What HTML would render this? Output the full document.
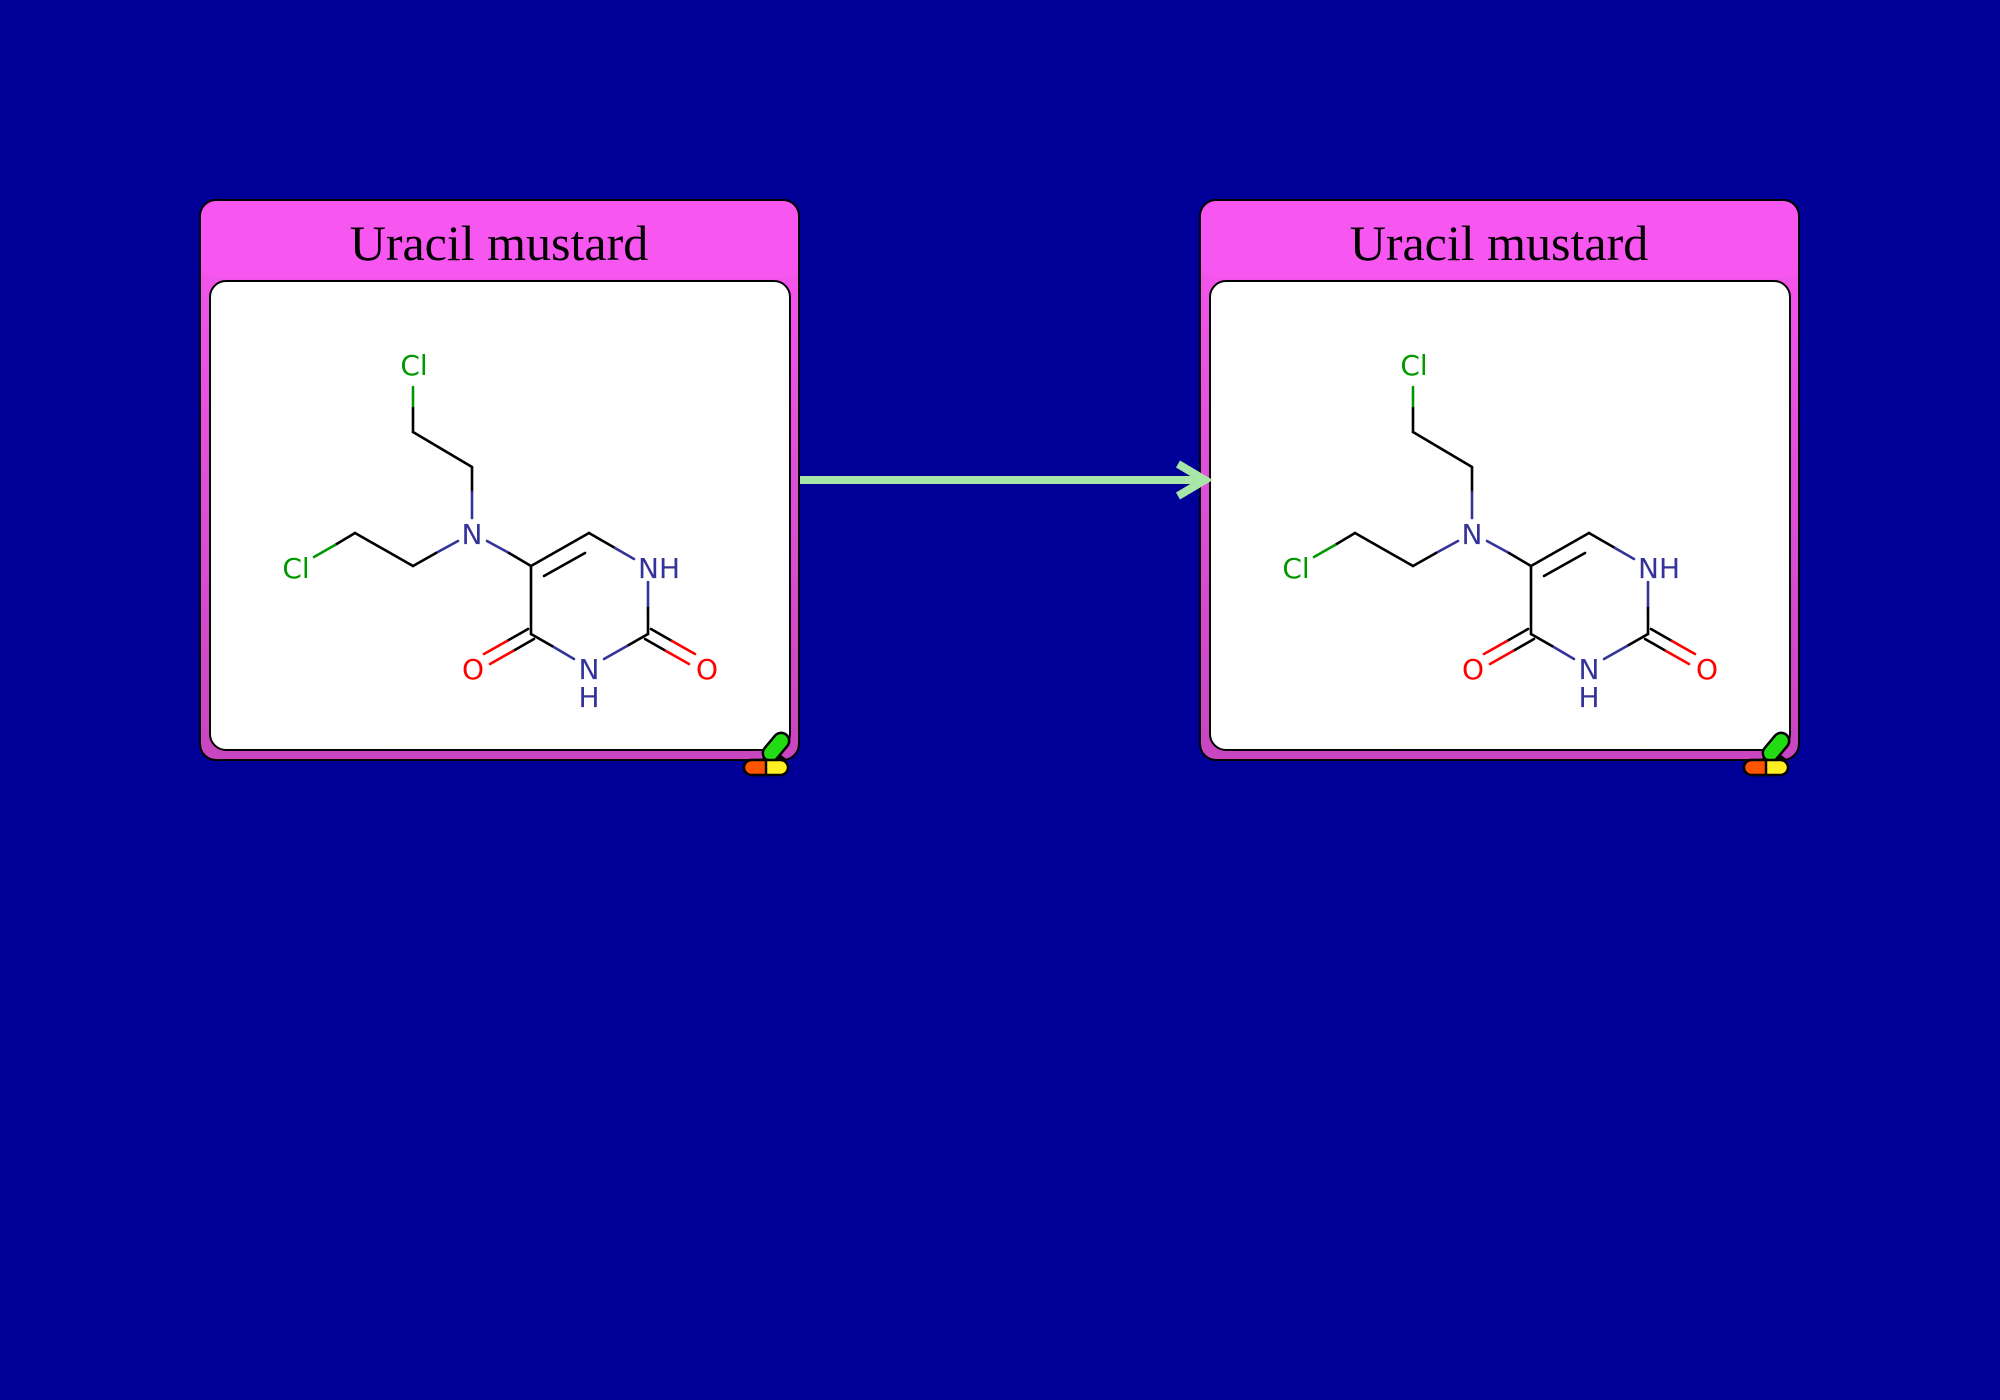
<!DOCTYPE html>
<html><head><meta charset="utf-8"><style>
html,body{margin:0;padding:0;background:#000099;}
svg{display:block}
</style></head><body>
<svg width="2000" height="1400" viewBox="0 0 2000 1400" xmlns="http://www.w3.org/2000/svg">
<defs>
<linearGradient id="g" x1="0" y1="0" x2="0" y2="1">
<stop offset="0" stop-color="#f757f0"/><stop offset="1" stop-color="#c846c0"/>
</linearGradient>
<g id="card">
<rect x="200" y="200" width="599" height="560" rx="16" fill="url(#g)" stroke="#000" stroke-width="2"/>
<rect x="200" y="200" width="599" height="78" rx="16" fill="#f757f0"/>
<rect x="200" y="200" width="599" height="560" rx="16" fill="none" stroke="#000" stroke-width="2"/>
<text x="499" y="260" font-family="Liberation Serif, serif" font-size="50" text-anchor="middle" fill="#000">Uracil mustard</text>
<rect x="210" y="281" width="580" height="469" rx="16" fill="#fff" stroke="#000" stroke-width="2"/>
<g stroke-width="2.6" fill="none" stroke-linecap="round">
<line x1="413" y1="387" x2="413" y2="408" stroke="#009900"/>
<line x1="413" y1="408" x2="413" y2="432" stroke="#000"/>
<line x1="413" y1="432" x2="472" y2="467" stroke="#000"/>
<line x1="472" y1="467" x2="472" y2="492" stroke="#000"/>
<line x1="472" y1="492" x2="472" y2="518" stroke="#33339a"/>
<line x1="458" y1="541" x2="436" y2="553" stroke="#33339a"/>
<line x1="436" y1="553" x2="413" y2="566" stroke="#000"/>
<line x1="413" y1="566" x2="355" y2="533" stroke="#000"/>
<line x1="355" y1="533" x2="335" y2="545" stroke="#000"/>
<line x1="335" y1="545" x2="314" y2="557" stroke="#009900"/>
<line x1="487" y1="541" x2="509" y2="553" stroke="#33339a"/>
<line x1="509" y1="553" x2="531" y2="566" stroke="#000"/>
<line x1="531" y1="566" x2="589" y2="533" stroke="#000"/>
<line x1="544" y1="576" x2="585" y2="553" stroke="#000"/>
<line x1="589" y1="533" x2="615" y2="548" stroke="#000"/>
<line x1="615" y1="548" x2="634" y2="559" stroke="#33339a"/>
<line x1="648" y1="582" x2="648" y2="608" stroke="#33339a"/>
<line x1="648" y1="608" x2="648" y2="634" stroke="#000"/>
<line x1="648" y1="634" x2="627" y2="646" stroke="#000"/>
<line x1="627" y1="646" x2="604" y2="659" stroke="#33339a"/>
<line x1="574" y1="659" x2="552" y2="646" stroke="#33339a"/>
<line x1="552" y1="646" x2="531" y2="634" stroke="#000"/>
<line x1="531" y1="634" x2="531" y2="566" stroke="#000"/>
<line x1="528" y1="629" x2="507" y2="641" stroke="#000"/>
<line x1="507" y1="641" x2="484" y2="654" stroke="#ff0000"/>
<line x1="534" y1="639" x2="513" y2="651" stroke="#000"/>
<line x1="513" y1="651" x2="490" y2="664" stroke="#ff0000"/>
<line x1="651" y1="629" x2="672" y2="641" stroke="#000"/>
<line x1="672" y1="641" x2="695" y2="654" stroke="#ff0000"/>
<line x1="645" y1="639" x2="666" y2="651" stroke="#000"/>
<line x1="666" y1="651" x2="689" y2="664" stroke="#ff0000"/>
</g>
<g font-family="DejaVu Sans, sans-serif" font-size="28" text-anchor="middle">
<text x="414" y="375" fill="#009900">Cl</text>
<text x="296" y="578" fill="#009900">Cl</text>
<text x="472" y="544" fill="#33339a">N</text>
<text x="659" y="578" fill="#33339a">NH</text>
<text x="589" y="679" fill="#33339a">N</text>
<text x="589" y="707" fill="#33339a">H</text>
<text x="473" y="679" fill="#ff0000">O</text>
<text x="707" y="679" fill="#ff0000">O</text>
</g>
<g stroke="#000" stroke-width="2.5">
<path d="M764 758 l7 -9 l12 9 z" fill="#3399dd"/>
<rect x="768" y="731" width="16" height="32" rx="8" fill="#22dd11" transform="rotate(40 776 747)"/>
<rect x="744" y="760" width="44" height="15" rx="7.5" fill="#ffee22"/>
<path d="M766 760 h-14.5 a7.5 7.5 0 0 0 0 15 h14.5 z" fill="#ff5500"/>
</g>
</g>
</defs>
<use href="#card"/>
<use href="#card" transform="translate(1000,0)"/>
<line x1="800" y1="480" x2="1200" y2="480" stroke="#a8e6a8" stroke-width="8"/>
<polyline points="1178,464 1205,480 1178,496" fill="none" stroke="#a8e6a8" stroke-width="8" stroke-linejoin="miter"/>
</svg>
</body></html>
